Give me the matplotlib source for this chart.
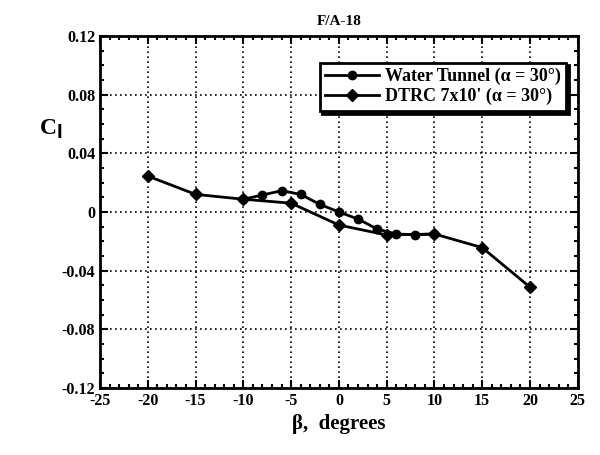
import matplotlib
matplotlib.use("Agg")
import matplotlib.pyplot as plt
from matplotlib.ticker import MultipleLocator

# Water Tunnel (alpha = 30 deg)
beta_wt = [-10, -8, -6, -4, -2, 0, 2, 4, 6, 8, 10]
cl_wt = [0.0087, 0.0116, 0.0145, 0.012, 0.0052, 0.0, -0.0048, -0.0116, -0.015, -0.0155, -0.015]

# DTRC 7x10' (alpha = 30 deg)
beta_dt = [-20, -15, -10, -5, 0, 5, 10, 15, 20]
cl_dt = [0.0245, 0.012, 0.0087, 0.006, -0.0089, -0.0157, -0.015, -0.0243, -0.0513]

xticks = [-25, -20, -15, -10, -5, 0, 5, 10, 15, 20, 25]
yticks = [-0.12, -0.08, -0.04, 0, 0.04, 0.08, 0.12]
ytick_labels = ["-0.12", "-0.08", "-0.04", "0", "0.04", "0.08", "0.12"]

plt.rcParams["font.family"] = ["Liberation Serif", "DejaVu Serif"]
plt.rcParams["font.weight"] = "bold"

fig = plt.figure(figsize=(6, 4.55), dpi=100)
ax = fig.add_axes([0.1667, 0.1473, 0.7963, 0.7736])

ax.plot(beta_wt, cl_wt, color="black", lw=2, marker="o", ms=6,
        label="Water Tunnel (\u03b1 = 30\u00b0)")
ax.plot(beta_dt, cl_dt, color="black", lw=2, marker="D", ms=6,
        label="DTRC 7x10' (\u03b1 = 30\u00b0)")

ax.set_xlim(-25, 25)
ax.set_ylim(-0.12, 0.12)
ax.set_xticks(xticks)
ax.set_xticklabels([str(t) for t in xticks])
ax.set_yticks(yticks)
ax.set_yticklabels(ytick_labels)
ax.xaxis.set_minor_locator(MultipleLocator(1))
ax.yaxis.set_minor_locator(MultipleLocator(0.01))
ax.tick_params(which="both", direction="in", top=True, right=True, width=1.5)
ax.tick_params(which="major", length=6, labelsize=11.5)
ax.tick_params(which="minor", length=3)
ax.grid(True, which="major", linestyle=(0, (1, 2)), color="black", lw=1.2)
for s in ax.spines.values():
    s.set_linewidth(2)

ax.set_title("F/A-18", fontsize=11, fontweight="bold", pad=8)
ax.set_xlabel("\u03b2,  degrees", fontsize=15, fontweight="bold")
ax.text(-0.128, 0.735, "C$_{\\mathbf{l}}$", transform=ax.transAxes, fontsize=17,
        fontweight="bold", ha="left", va="center")

leg = ax.legend(loc="upper right", fontsize=13, frameon=True, fancybox=False,
                shadow={"color": "black", "alpha": 1}, handlelength=3.0,
                borderpad=0.3, labelspacing=0.15, handletextpad=0.3,
                bbox_to_anchor=(0.994, 0.95))
leg.get_frame().set_edgecolor("black")
leg.get_frame().set_linewidth(2)

fig.savefig("out.png", dpi=100)
